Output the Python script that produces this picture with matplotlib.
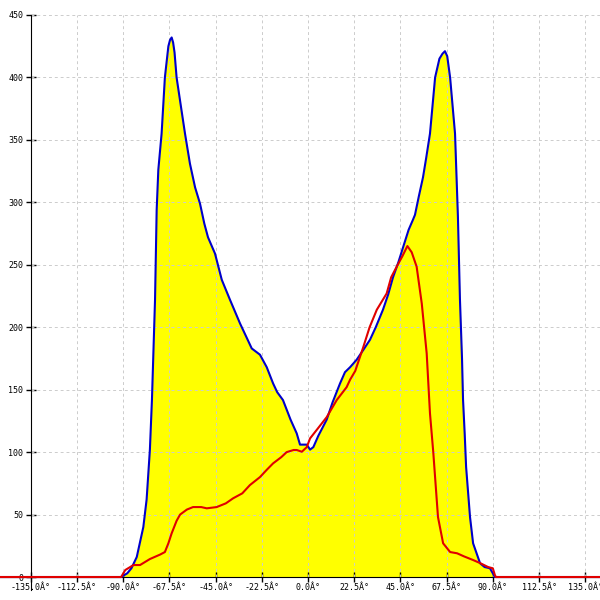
import numpy as np
import matplotlib
matplotlib.use("Agg")
import matplotlib.pyplot as plt

# blue series (filled yellow below)
xb = [-150, -91, -88, -86, -83.4, -80.2, -78.6, -77, -76, -74.5, -73.7, -72.9, -71.3, -69.7, -68,
      -67.2, -66.4, -65.7, -65, -64, -62, -59.9, -57.5, -55, -52.6, -50.5, -48.7, -45.3, -42, -38,
      -33.1, -27.4, -25, -23.4, -20.1, -17, -15, -12.2, -8.5, -5.5, -3.9, -0.6, 1, 2.6, 5, 9.1, 12,
      15.6, 18, 20.5, 23.7, 27, 30.2, 33, 36.5, 39, 41.4, 44, 46.3, 49, 51.1, 52.1, 54, 56, 57.5,
      59.4, 61.9, 64, 65.5, 66.7, 67.8, 69.2, 71.6, 73, 74, 75, 75.5, 76.3, 77, 78.9, 80.4, 83.8,
      86, 88.6, 90, 91, 142]
yb = [0, 0, 3, 7, 16, 40, 62, 102, 142, 222, 294, 326, 355, 400, 425,
      430, 432, 428, 420, 400, 378, 355, 331, 312, 299, 283, 272, 259, 238, 222,
      203, 183, 180, 178, 168, 155, 148, 141.7, 126, 115, 106, 106, 102, 104, 113, 126, 140,
      155, 164, 168, 174, 182, 190, 200, 214, 226, 240, 252, 264, 278, 286, 290, 305, 320, 335,
      355, 400, 415, 419, 421, 417, 400, 355, 289, 222, 175, 142, 115, 88, 48, 27, 11,
      8, 7, 3, 0, 0]

# red series
xr = [-150, -91, -89, -85, -81.8, -77, -72, -69.7, -68, -66.4, -64, -62.3, -59, -56, -52, -49.3,
      -44.5, -40, -36.5, -32, -28.3, -23.4, -20, -17, -13, -10.4, -7, -5.5, -3, -0.6, 1, 4.2, 9.1,
      14, 18.8, 20.5, 23, 26.9, 30, 33.5, 38.3, 40.5, 43.2, 46, 48.4, 50.5, 52.9, 55.4, 57.8, 59.4,
      61, 63.3, 65.8, 69.2, 72.6, 76, 80.4, 84, 87.7, 90, 91, 91.5, 142]
yr = [0, 0, 5.6, 9.6, 9.6, 14.4, 18, 20, 27, 35, 45, 50, 54, 56, 56, 55,
      56, 59, 63, 67, 73.6, 80, 86, 91, 96, 100, 101.7, 101.7, 100.3, 104, 111, 117.7, 128,
      141.7, 152, 158, 165, 184, 200, 214, 227, 240, 248.5, 257, 265, 260, 248.5, 219, 179, 131,
      100, 48, 27, 20, 19, 16.5, 13.6, 11, 8, 7, 1.6, 0, 0]

xticks = [-135, -112.5, -90, -67.5, -45, -22.5, 0, 22.5, 45, 67.5, 90, 112.5, 135]
xlabels = ["%.1fÂ°" % v for v in xticks]
yticks = [0, 50, 100, 150, 200, 250, 300, 350, 400, 450]

fig = plt.figure(figsize=(6, 6), dpi=100)
ax = fig.add_axes([0, 0, 1, 1])
ax.set_xlim(-150, 142.2)
ax.set_ylim(-18.4, 462)

ax.fill_between(xb, yb, 0, color="#ffff00", lw=0, zorder=1)

# grid
ax.vlines(xticks[1:], 0, 450, colors="#cccccc", linestyles=(0, (3, 3)), lw=0.7, zorder=2)
ax.hlines(yticks[1:], -135, 142.2, colors="#cccccc", linestyles=(0, (3, 3)), lw=0.7, zorder=2)

ax.plot(xb, yb, color="#0000cc", lw=1.5, zorder=4)
ax.plot(xr, yr, color="#e00000", lw=1.5, zorder=5)

for s in ["top", "right"]:
    ax.spines[s].set_visible(False)
ax.spines["left"].set_position(("data", -135))
ax.spines["bottom"].set_position(("data", 0))
ax.spines["left"].set_bounds(-10, 450)
ax.spines["bottom"].set_bounds(-150, 142.2)
ax.spines["left"].set_zorder(3)
ax.spines["bottom"].set_zorder(3)

ax.set_xticks(xticks)
ax.set_xticklabels(xlabels)
ax.set_yticks(yticks)
ax.tick_params(axis="both", direction="inout", length=7, width=1,
               labelsize=6, pad=1)
ax.tick_params(axis="y", pad=2)
for lab in ax.get_xticklabels() + ax.get_yticklabels():
    lab.set_family("DejaVu Sans Mono")

fig.savefig("out.png", dpi=100)
